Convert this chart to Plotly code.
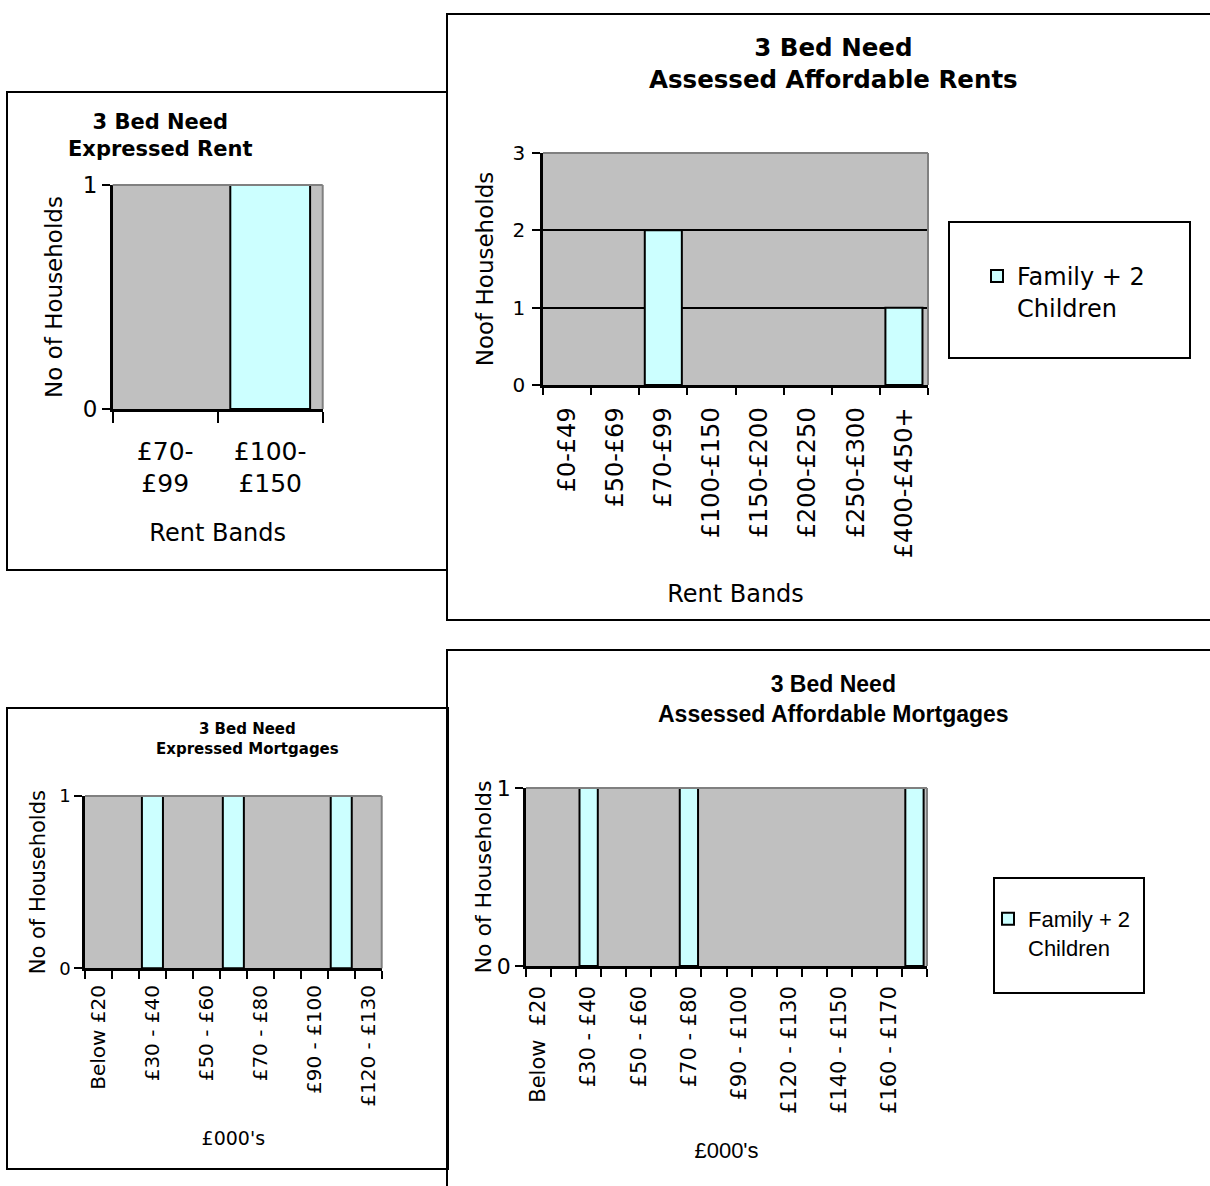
import plotly.graph_objects as go

W, H = 1210, 1186

# ---- data -------------------------------------------------------------
# 3 bed need: expressed rent
rent_expr_bands = ["£70-<br>£99", "£100-<br>£150"]
rent_expr_counts = [0, 1]

# 3 bed need: assessed affordable rents
rent_assessed_bands = ["£0-£49", "£50-£69", "£70-£99", "£100-£150",
                       "£150-£200", "£200-£250", "£250-£300", "£400-£450+"]
rent_assessed_counts = [0, 0, 2, 0, 0, 0, 0, 1]

# 3 bed need: expressed mortgages (11 bands, every second band labelled)
mort_expr_labels = ["Below £20", "£30 - £40", "£50 - £60",
                    "£70 - £80", "£90 - £100", "£120 - £130"]
mort_expr_counts = [0, 0, 1, 0, 0, 1, 0, 0, 0, 1, 0]

# 3 bed need: assessed affordable mortgages (16 bands, every second labelled)
mort_assessed_labels = ["Below  £20", "£30 - £40", "£50 - £60", "£70 - £80",
                        "£90 - £100", "£120 - £130", "£140 - £150", "£160 - £170"]
mort_assessed_counts = [0, 0, 1, 0, 0, 0, 1, 0, 0, 0, 0, 0, 0, 0, 0, 1]

series_name = "Family + 2<br>Children"

# ---- styling ----------------------------------------------------------
VERDANA = "DejaVu Sans, Verdana, sans-serif"
ARIAL = "Liberation Sans, Arial, sans-serif"
BAR_FILL = "#CCFFFF"
PLOT_BG = "#C0C0C0"
FRAME_GREY = "#808080"


def px_x(x):
    return x / W


def px_y(y):
    return 1 - y / H


def xdom(x0, x1):
    return [px_x(x0), px_x(x1)]


def ydom(top, bottom):
    return [px_y(bottom), px_y(top)]


def bar(counts, xa, ya, legend=None, width=0.76):
    # empty bands are left blank so the axis line stays clean
    return go.Bar(
        x=list(range(len(counts))), y=[v if v > 0 else None for v in counts],
        xaxis=xa, yaxis=ya,
        name=series_name, showlegend=legend is not None,
        legend=legend or "legend", width=width,
        marker=dict(color=BAR_FILL, line=dict(color="black", width=2)),
    )


fig = go.Figure()
fig.add_trace(bar(rent_expr_counts, "x", "y", width=0.76))
fig.add_trace(bar(rent_assessed_counts, "x2", "y2", legend="legend", width=0.77))
fig.add_trace(bar(mort_expr_counts, "x3", "y3", width=0.78))
fig.add_trace(bar(mort_assessed_counts, "x4", "y4", legend="legend2", width=0.73))


def band_axis(domain, anchor, n, tickvals, ticktext, size, ticklen, angle,
              title, title_size, standoff, label_standoff=0, title_family=VERDANA):
    return dict(
        domain=domain, anchor=anchor, range=[-0.5, n - 0.5],
        tickmode="array", tickvals=tickvals, ticktext=ticktext, ticks="",
        tickangle=angle, tickfont=dict(family=VERDANA, size=size, color="black"),
        ticklabelstandoff=label_standoff,
        showline=True, linecolor="black", linewidth=2.5,
        showgrid=False, zeroline=False, fixedrange=True,
        minor=dict(tickmode="linear", tick0=-0.5, dtick=1, ticks="outside",
                   ticklen=ticklen, tickwidth=2, tickcolor="black", showgrid=False),
        title=dict(text=title, font=dict(family=title_family, size=title_size, color="black"),
                   standoff=standoff),
    )


def count_axis(domain, anchor, ymax, size, title, title_size, standoff,
               label_standoff=0, grid=False):
    return dict(
        domain=domain, anchor=anchor, range=[0, ymax],
        tickmode="linear", tick0=0, dtick=1, ticks="outside", ticklen=8,
        tickwidth=2, tickcolor="black",
        tickfont=dict(family=VERDANA, size=size, color="black"),
        ticklabelstandoff=label_standoff,
        showline=True, linecolor="black", linewidth=2.5,
        showgrid=grid, gridcolor="black", gridwidth=2, zeroline=False, fixedrange=True,
        title=dict(text=title, font=dict(family=VERDANA, size=title_size, color="black"),
                   standoff=standoff),
    )


n1, n2, n3, n4 = (len(rent_expr_counts), len(rent_assessed_counts),
                  len(mort_expr_counts), len(mort_assessed_counts))

layout = dict(
    width=W, height=H, margin=dict(l=0, r=0, t=0, b=0, autoexpand=False),
    paper_bgcolor="white", plot_bgcolor=PLOT_BG,
    font=dict(family=VERDANA, color="black"),
    xaxis=band_axis(xdom(112.7, 322.7), "y", n1, list(range(n1)), rent_expr_bands,
                    25, 11, 0, "Rent Bands", 24, 27, label_standoff=18),
    yaxis=count_axis(ydom(185, 409), "x", 1, 23, "No of Households", 23, 14),
    xaxis2=band_axis(xdom(543, 928), "y2", n2, list(range(n2)), rent_assessed_bands,
                     24, 7, -90, "Rent Bands", 24, 28, label_standoff=10),
    yaxis2=count_axis(ydom(153, 385), "x2", 3, 20, "Noof Households", 23, 13,
                      label_standoff=3, grid=True),
    xaxis3=band_axis(xdom(85, 381.7), "y3", n3, list(range(0, n3, 2)), mort_expr_labels,
                     20, 8, -90, "£000's", 19, 26, label_standoff=6),
    yaxis3=count_axis(ydom(796, 968.3), "x3", 1, 18, "No of Households", 21, 8),
    xaxis4=band_axis(xdom(526, 927), "y4", n4, list(range(0, n4, 2)), mort_assessed_labels,
                     21, 8, -90, "£000's", 22, 30, label_standoff=9, title_family=ARIAL),
    yaxis4=count_axis(ydom(788, 966), "x4", 1, 22, "No of Households", 22, 0),
    legend=dict(x=px_x(977), y=px_y(254), xanchor="left", yanchor="top",
                bgcolor="rgba(0,0,0,0)", borderwidth=0, valign="top",
                font=dict(family=VERDANA, size=24, color="black")),
    legend2=dict(x=px_x(988), y=px_y(898), xanchor="left", yanchor="top",
                 bgcolor="rgba(0,0,0,0)", borderwidth=0, valign="top",
                 font=dict(family=ARIAL, size=22, color="black")),
    showlegend=True,
)

shapes = []
# chart frames (the right-hand frames run past the page edge)
for x0, y0, x1, y1 in [(7, 92, 447, 570), (447, 14, 1220, 620),
                       (7, 708, 448, 1169), (447, 650, 1220, 1200)]:
    shapes.append(dict(type="rect", xref="paper", yref="paper",
                       x0=px_x(x0), x1=px_x(x1), y0=px_y(y1), y1=px_y(y0),
                       line=dict(color="black", width=2), fillcolor="rgba(0,0,0,0)",
                       layer="below"))
# legend boxes
for x0, y0, x1, y1 in [(949, 222, 1190, 358), (994, 878, 1144, 993)]:
    shapes.append(dict(type="rect", xref="paper", yref="paper",
                       x0=px_x(x0), x1=px_x(x1), y0=px_y(y1), y1=px_y(y0),
                       line=dict(color="black", width=2), fillcolor="white",
                       layer="below"))
# grey top/right edges of each plot area
for sfx in ["", "2", "3", "4"]:
    shapes.append(dict(type="line", xref=f"x{sfx} domain", yref=f"y{sfx} domain",
                       x0=0, x1=1, y0=1, y1=1, line=dict(color=FRAME_GREY, width=2),
                       layer="above"))
    shapes.append(dict(type="line", xref=f"x{sfx} domain", yref=f"y{sfx} domain",
                       x0=1, x1=1, y0=0, y1=1, line=dict(color=FRAME_GREY, width=2),
                       layer="above"))
layout["shapes"] = shapes

# chart titles
titles = [
    ("<b>3 Bed Need<br>Expressed Rent</b>", 160, 136, VERDANA, 21),
    ("<b>3 Bed Need<br>Assessed Affordable Rents</b>", 833, 64, VERDANA, 24.5),
    ("<b>3 Bed Need<br>Expressed Mortgages</b>", 247, 739, VERDANA, 15),
    ("<b>3 Bed Need<br>Assessed Affordable Mortgages</b>", 834, 699, ARIAL, 23),
]
layout["annotations"] = [
    dict(text=t, x=px_x(x), y=px_y(y), xref="paper", yref="paper",
         xanchor="center", yanchor="middle", showarrow=False, align="center",
         font=dict(family=fam, size=sz, color="black"))
    for t, x, y, fam, sz in titles
]

fig.update_layout(**layout)
fig.write_html("out.html")
